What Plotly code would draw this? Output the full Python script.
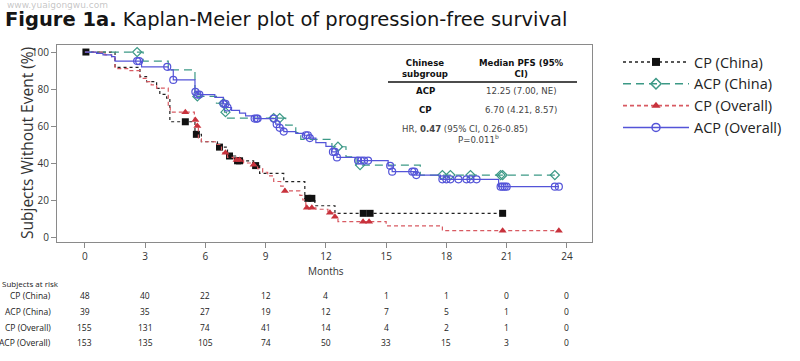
import numpy as np
import plotly.graph_objects as go

# ---------------- data ----------------
month_ticks = [0, 3, 6, 9, 12, 15, 18, 21, 24]
y_ticks = [0, 20, 40, 60, 80, 100]

series_names = ["CP (China)", "ACP (China)", "CP (Overall)", "ACP (Overall)"]

cp_china_t = [0, 1.5, 2.74, 3.07, 3.57, 3.73, 4.07, 4.23, 5.48, 5.8, 6.6, 7.1, 7.5, 8.4, 8.7, 9.9, 10.95, 11.45, 12.45]
cp_china_s = [100, 91.7, 86.7, 84, 80.4, 77.1, 75, 62.3, 55.5, 51.5, 48.6, 43.8, 41.2, 38.6, 34.4, 29.9, 20.9, 16.9, 12.8]
cp_china_end = 20.8
cp_china_cens = [0.05, 5.0, 5.55, 6.7, 7.2, 7.6, 7.7, 8.5, 11.1, 11.3, 13.86, 14.2, 20.8]

acp_china_t = [0, 2.9, 4.15, 5.48, 6.55, 6.95, 7.05, 10.0, 10.5, 10.75, 12.3, 13.0, 13.5, 16.7]
acp_china_s = [100, 95.1, 90.3, 76, 72.3, 67.5, 64.3, 60.5, 56.5, 52.8, 48.8, 43.4, 38.9, 33.5]
acp_china_end = 23.4
acp_china_cens = [2.6, 5.6, 6.9, 7.0, 9.4, 9.7, 12.6, 13.7, 17.8, 18.2, 19.2, 20.7, 20.8, 23.4]

cp_all_t = [0, 1.0, 1.33, 1.5, 2.2, 2.74, 3.07, 3.3, 3.57, 4.15, 4.25, 5.45, 5.52, 5.65, 5.8, 6.5, 6.8,
            7.1, 7.4, 7.9, 8.35, 8.6, 8.85, 9.1, 9.4, 9.75, 9.95, 10.7, 10.85, 11.0, 11.5, 12.1, 12.4,
            12.6, 15.0, 17.8]
cp_all_s = [100, 98.5, 97, 91, 90, 85.8, 84, 82.2, 80.5, 70, 67.5, 63.2, 60, 53, 51.5, 50, 45.5,
            43, 41.6, 40, 39, 37, 35, 33, 30, 27.5, 24.9, 22.5, 20, 15.8, 15, 13.1, 11,
            8.3, 6, 3.4]
cp_all_end = 23.6
cp_all_cens = [5.0, 5.5, 5.6, 7.0, 7.55, 7.7, 8.4, 9.96, 11.05, 11.3, 12.2, 12.45, 13.85, 14.15, 20.8, 23.6]

acp_all_t = [0, 0.58, 0.9, 1.33, 1.5, 2.82, 4.15, 4.4, 5.48, 5.6, 6.47, 6.9, 7.05, 7.3, 7.7, 8.0, 8.4,
             9.5, 9.7, 9.9, 10.5, 10.9, 11.2, 11.5, 12.0, 12.3, 12.55, 13.6, 15.1, 15.3, 16.5, 17.7, 20.6]
acp_all_s = [100, 99.3, 98.5, 97.5, 95.1, 92, 90.3, 84.9, 78.5, 77, 75.5, 72, 70, 68.5, 67, 65.5, 64,
             61, 59, 57, 56, 55, 53.5, 51, 49, 46, 43, 41.3, 38.5, 35.3, 33.5, 31.2, 27.2]
acp_all_end = 23.6
acp_all_cens = [2.6, 2.7, 4.1, 4.4, 5.5, 5.6, 5.7, 6.9, 7.0, 7.1, 8.45, 8.55, 8.6, 9.4, 9.55, 9.7, 9.9,
                11.0, 11.1, 11.2, 12.35, 12.45, 12.55, 13.6, 13.75, 13.9, 14.1, 15.2, 15.3, 16.3, 16.4,
                16.5, 17.8, 18.0, 18.2, 18.6, 19.0, 19.2, 19.5, 20.7, 20.8, 20.9, 21.0, 23.4, 23.6]

risk_cp_china = [48, 40, 22, 12, 4, 1, 1, 0, 0]
risk_acp_china = [39, 35, 27, 19, 12, 7, 5, 1, 0]
risk_cp_all = [155, 131, 74, 41, 14, 4, 2, 1, 0]
risk_acp_all = [153, 135, 105, 74, 50, 33, 15, 3, 0]

table_rows = ["ACP", "CP"]
table_medians = ["12.25 (7.00, NE)", "6.70 (4.21, 8.57)"]

# ---------------- styles ----------------
styles = [
    dict(color="#111111", dash="dot", symbol="square", msize=7, mline=None),
    dict(color="#3c9986", dash="8px,5px", symbol="diamond-open", msize=7, mline=1.2),
    dict(color="#c8323c", dash="4px,3px", symbol="triangle-up", msize=7, mline=None),
    dict(color="#5454d8", dash="solid", symbol="circle-open", msize=7, mline=1.2),
]
line_colors = ["#222222", "#3c9986", "#d85a62", "#5454d8"]

datasets = [
    (cp_china_t, cp_china_s, cp_china_end, cp_china_cens),
    (acp_china_t, acp_china_s, acp_china_end, acp_china_cens),
    (cp_all_t, cp_all_s, cp_all_end, cp_all_cens),
    (acp_all_t, acp_all_s, acp_all_end, acp_all_cens),
]

fig = go.Figure()

for name, (t, s, end, cens), st, lc in zip(series_names, datasets, styles, line_colors):
    tx = list(t) + [end]
    sy = list(s) + [s[-1]]
    fig.add_trace(go.Scatter(x=tx, y=sy, mode="lines", line_shape="hv",
                             line=dict(color=lc, width=1.2, dash=st["dash"]),
                             showlegend=False, hoverinfo="skip"))
    tt = np.array(t)
    ss = np.array(s)
    idx = np.searchsorted(tt, np.array(cens), side="right") - 1
    cy = ss[idx]
    mk = dict(symbol=st["symbol"], size=st["msize"], color=st["color"])
    if st["mline"]:
        mk["line"] = dict(color=st["color"], width=st["mline"])
    fig.add_trace(go.Scatter(x=cens, y=cy, mode="markers", marker=mk,
                             showlegend=False, hoverinfo="skip"))

# legend-only traces
for name, st, lc in zip(series_names, styles, line_colors):
    mk = dict(symbol=st["symbol"], size=st["msize"] + 1, color=st["color"])
    if st["mline"]:
        mk["line"] = dict(color=st["color"], width=st["mline"] + 0.3)
    fig.add_trace(go.Scatter(x=[None], y=[None], mode="lines+markers", name=name,
                             line=dict(color=lc, width=1.6, dash=st["dash"]), marker=mk))

# --------------- layout helpers ---------------
L, R, T, B = 57, 592, 45, 242
def px(xp):
    return (xp - L) / (R - L)
def py(yp):
    return (B - yp) / (B - T)

ann = []
# watermark
ann.append(dict(text="www.yuaigongwu.com", x=px(5), y=py(5), xref="paper", yref="paper",
                xanchor="left", yanchor="middle", showarrow=False,
                font=dict(family="DejaVu Sans", size=9, color="rgba(150,150,150,0.55)")))
# title
ann.append(dict(text="<b>Figure 1a.</b> Kaplan-Meier plot of progression-free survival",
                x=px(3), y=py(19), xref="paper", yref="paper", xanchor="left", yanchor="middle",
                showarrow=False, font=dict(family="DejaVu Sans", size=19.5, color="#151515")))
# y axis title
ann.append(dict(text="Subjects Without Event (%)", x=px(27), y=py(143), xref="paper", yref="paper",
                textangle=-90, showarrow=False, xanchor="center", yanchor="middle",
                font=dict(family="Open Sans", size=15.5, color="#333333")))
# x axis title
ann.append(dict(text="Months", x=12, y=py(271), xref="x", yref="paper", showarrow=False,
                xanchor="center", yanchor="middle", font=dict(family="Open Sans", size=10, color="#333333")))

# risk table
ann.append(dict(text="Subjects at risk", x=px(0), y=py(283), xref="paper", yref="paper",
                xanchor="left", yanchor="middle", showarrow=False,
                font=dict(family="Open Sans", size=8, color="#222222")))
risk_rows = [risk_cp_china, risk_acp_china, risk_cp_all, risk_acp_all]
row_y = [295, 311, 327, 342]
for name, vals, ry in zip(series_names, risk_rows, row_y):
    ann.append(dict(text=name, x=px(53), y=py(ry), xref="paper", yref="paper", xanchor="right",
                    yanchor="middle", showarrow=False, font=dict(family="Open Sans", size=8.5, color="#222222")))
    for m, v in zip(month_ticks, vals):
        ann.append(dict(text=str(v), x=m, y=py(ry), xref="x", yref="paper", xanchor="center",
                        yanchor="middle", showarrow=False,
                        font=dict(family="Open Sans", size=8.5, color="#222222")))

# inset table
tf = dict(family="DejaVu Sans", size=8.6, color="#111111")
tf2 = dict(family="DejaVu Sans", size=8.6, color="#444444")
ann.append(dict(text="<b>Chinese</b><br><b>subgroup</b>", x=px(425), y=py(68), xref="paper", yref="paper",
                showarrow=False, xanchor="center", yanchor="middle", font=tf))
ann.append(dict(text="<b>Median PFS (95%</b><br><b>CI)</b>", x=px(521), y=py(68), xref="paper", yref="paper",
                showarrow=False, xanchor="center", yanchor="middle", font=tf))
for lab, med, ry in zip(table_rows, table_medians, [91, 110]):
    ann.append(dict(text="<b>%s</b>" % lab, x=px(425), y=py(ry), xref="paper", yref="paper",
                    showarrow=False, xanchor="center", yanchor="middle", font=tf))
    ann.append(dict(text=med, x=px(521), y=py(ry), xref="paper", yref="paper",
                    showarrow=False, xanchor="center", yanchor="middle", font=tf2))
ann.append(dict(text="HR, <b>0.47</b> (95% CI, 0.26-0.85)", x=px(465), y=py(129), xref="paper", yref="paper",
                showarrow=False, xanchor="center", yanchor="middle", font=tf2))
ann.append(dict(text="P=0.011<sup>b</sup>", x=px(478), y=py(139), xref="paper", yref="paper",
                showarrow=False, xanchor="center", yanchor="middle", font=tf2))

shapes = [dict(type="line", xref="paper", yref="paper", x0=px(388), x1=px(577), y0=py(82), y1=py(82),
               line=dict(color="#111111", width=1.5))]

fig.update_layout(
    width=800, height=361,
    margin=dict(l=L, r=800 - R, t=T, b=361 - B, pad=0, autoexpand=False),
    paper_bgcolor="white", plot_bgcolor="white",
    annotations=ann, shapes=shapes,
    legend=dict(x=px(618), y=py(46), xref="paper", yref="paper", xanchor="left", yanchor="top",
                bgcolor="rgba(0,0,0,0)", itemwidth=66,
                font=dict(family="Open Sans", size=14.5, color="#222222"), tracegroupgap=0),
    xaxis=dict(range=[-1.39, 25.25], tickvals=month_ticks, ticktext=[str(m) for m in month_ticks],
               showgrid=False, zeroline=False, showline=True, mirror=True, linecolor="#8a8a8a",
               linewidth=1, ticks="outside", ticklen=5, tickcolor="#8a8a8a",
               tickfont=dict(family="Open Sans", size=10, color="#333333")),
    yaxis=dict(range=[-2.7, 103.8], tickvals=y_ticks, ticktext=[str(v) for v in y_ticks],
               showgrid=False, zeroline=False, showline=True, mirror=True, linecolor="#8a8a8a",
               linewidth=1, ticks="outside", ticklen=5, tickcolor="#8a8a8a",
               tickfont=dict(family="Open Sans", size=10, color="#333333")),
)

fig.write_html("out.html", config={"displayModeBar": False},
               post_script="document.body.style.margin='0px';")
